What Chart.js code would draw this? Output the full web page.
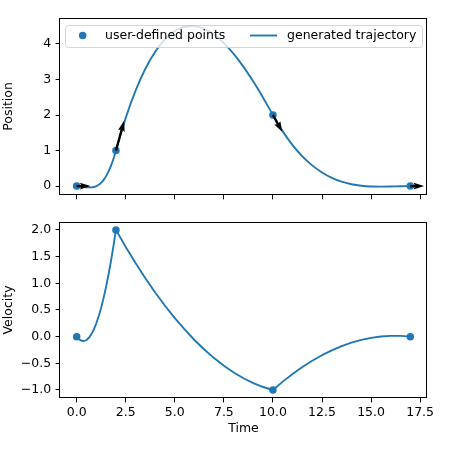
<!DOCTYPE html>
<html><head><meta charset="utf-8">
<script src="https://cdn.jsdelivr.net/npm/chart.js@4.4.0/dist/chart.umd.min.js"></script>
<style>
html,body{margin:0;padding:0;background:#fff;}
#wrap{position:relative;width:450px;height:450px;overflow:hidden;}
canvas{position:absolute;left:0;}
</style>
</head><body>
<div id="wrap">
<canvas id="topChart" width="450" height="210" style="top:0px"></canvas>
<canvas id="botChart" width="450" height="240" style="top:210px"></canvas>
</div>
<script>
// ---- data ----
const pointTimes = [0, 2, 10, 17];
const pointPositions = [0, 1, 2, 0];
const pointVelocities = [0, 2, -1, 0];

const trajTimes = [0,0.125,0.25,0.375,0.5,0.625,0.75,0.875,1,1.125,1.25,1.375,1.5,1.625,1.75,1.875,2,
  2.5,3,3.5,4,4.5,5,5.5,6,6.5,7,7.5,8,8.5,9,9.5,10,
  10.5,11,11.5,12,12.5,13,13.5,14,14.5,15,15.5,16,16.5,17];
const trajPositions = [0,-0.003,-0.012,-0.022,-0.031,-0.037,-0.035,-0.024,0,0.040,0.098,0.177,0.281,0.413,0.574,0.769,1,
  1.919,2.684,3.301,3.781,4.132,4.363,4.483,4.5,4.423,4.262,4.024,3.719,3.355,2.941,2.487,2,
  1.540,1.155,0.838,0.583,0.384,0.233,0.125,0.053,0.009,-0.012,-0.016,-0.012,-0.004,0];
const trajVelocities = [0,-0.051,-0.078,-0.082,-0.063,-0.020,0.047,0.137,0.25,0.387,0.547,0.731,0.938,1.168,1.422,1.699,2,
  1.681,1.379,1.095,0.828,0.579,0.348,0.134,-0.063,-0.241,-0.402,-0.546,-0.672,-0.780,-0.871,-0.944,-1,
  -0.843,-0.700,-0.569,-0.452,-0.348,-0.257,-0.179,-0.114,-0.062,-0.023,0.002,0.015,0.014,0];

const timeTicks = [0,2.5,5,7.5,10,12.5,15,17.5];
const timeTickLabels = ['0.0','2.5','5.0','7.5','10.0','12.5','15.0','17.5'];
const positionTicks = [0,1,2,3,4];
const positionTickLabels = ['0','1','2','3','4'];
const velocityTicks = [-1,-0.5,0,0.5,1,1.5,2];
const velocityTickLabels = ['\u22121.0','\u22120.5','0.0','0.5','1.0','1.5','2.0'];
const legendLabels = ['user-defined points','generated trajectory'];
const axisTitles = {x:'Time', pos:'Position', vel:'Velocity'};

// ---- styles ----
const BLUE = '#1f77b4';
const FONT = {family:'DejaVu Sans', size:12.5};
const TICKLEN = 4.4;

function lookup(ticks, labels){ return (v)=>{ const i = ticks.findIndex(t=>Math.abs(t-v)<1e-9); return i>=0?labels[i]:''; }; }
function gridOpts(){ return {display:true, drawOnChartArea:false, drawTicks:true, tickLength:TICKLEN, color:'#000', lineWidth:1}; }

const framePlugin = {
  id:'frameAndExtras',
  afterDraw(chart){
    const ctx = chart.ctx, ca = chart.chartArea;
    const xs = chart.scales.x, ys = chart.scales.y;
    if (chart.canvas.id === 'topChart') {
      // velocity arrows (quiver-like)
      ctx.save();
      ctx.beginPath(); ctx.rect(ca.left, ca.top, ca.right-ca.left, ca.bottom-ca.top); ctx.clip();
      const unit = 13.8, w = 2.3, hl = 4.6*w, hal = 4.1*w, hw = 3*w;
      for (let i=0;i<pointTimes.length;i++){
        const x0 = xs.getPixelForValue(pointTimes[i]);
        const y0 = ys.getPixelForValue(pointPositions[i]);
        const dxp = xs.getPixelForValue(pointTimes[i]+1) - x0;
        const dyp = ys.getPixelForValue(pointPositions[i]+pointVelocities[i]) - y0;
        const n = Math.hypot(dxp,dyp);
        const ux = dxp/n, uy = dyp/n;
        const len = unit*Math.hypot(1, pointVelocities[i]);
        const px = -uy, py = ux;
        const pts = [[0,-w/2],[len-hal,-w/2],[len-hl,-hw/2],[len,0],[len-hl,hw/2],[len-hal,w/2],[0,w/2]];
        ctx.beginPath();
        pts.forEach((p,k)=>{
          const X = x0 + ux*p[0] + px*p[1];
          const Y = y0 + uy*p[0] + py*p[1];
          if(k===0) ctx.moveTo(X,Y); else ctx.lineTo(X,Y);
        });
        ctx.closePath();
        ctx.fillStyle = '#000';
        ctx.fill();
      }
      ctx.restore();
    }
    // frame (all four spines)
    ctx.save();
    ctx.strokeStyle = '#000'; ctx.lineWidth = 1;
    const L = Math.round(ca.left)-0.5, T = Math.round(ca.top)+0.5;
    const R = Math.round(ca.right)-0.5, B = Math.round(ca.bottom)-0.5;
    ctx.strokeRect(L, T, R-L, B-T);
    ctx.restore();
    if (chart.canvas.id === 'topChart') {
      // legend inside the axes
      ctx.save();
      const lx = ca.left+5, ly = ca.top+7, lw = ca.right-ca.left-10, lh = 22;
      ctx.beginPath();
      ctx.roundRect(lx+0.5, ly+0.5, lw, lh, 3);
      ctx.fillStyle = 'rgba(255,255,255,0.8)';
      ctx.fill();
      ctx.strokeStyle = 'rgba(204,204,204,0.8)';
      ctx.lineWidth = 1;
      ctx.stroke();
      const cy = ly + 10.5;
      ctx.fillStyle = BLUE;
      ctx.beginPath(); ctx.arc(lx+17.7, cy, 3.75, 0, Math.PI*2); ctx.fill();
      ctx.strokeStyle = BLUE; ctx.lineWidth = 1.875;
      ctx.beginPath(); ctx.moveTo(lx+185, cy); ctx.lineTo(lx+212, cy); ctx.stroke();
      ctx.fillStyle = '#000';
      ctx.font = FONT.size + 'px "DejaVu Sans"';
      ctx.textBaseline = 'middle'; ctx.textAlign = 'left';
      ctx.fillText(legendLabels[0], lx+40, cy);
      ctx.fillText(legendLabels[1], lx+222, cy);
      ctx.restore();
    }
  }
};

function makeChart(id, yVals, pts, yMin, yMax, yTicks, yLabels, yTitle, isBottom){
  const lineDs = {label:legendLabels[1], data: trajTimes.map((t,i)=>({x:t,y:yVals[i]})),
         showLine:true, borderColor:BLUE, borderWidth:1.875, pointRadius:0, pointHoverRadius:0, tension:0, fill:false,
         borderJoinStyle:'round', borderCapStyle:'round'};
  if (!isBottom) { lineDs.cubicInterpolationMode = 'monotone'; }
  return new Chart(document.getElementById(id), {
    type:'scatter',
    data:{
      datasets:[
        {label:legendLabels[0], data: pointTimes.map((t,i)=>({x:t,y:pts[i]})),
         pointRadius:3.75, pointHoverRadius:3.75, pointBackgroundColor:BLUE, pointBorderWidth:0, showLine:false},
        lineDs
      ]
    },
    options:{
      responsive:false, animation:false, events:[],
      layout:{padding: isBottom ? {top:11,right:23,left:0,bottom:0} : {top:18,right:23,left:0,bottom:0}},
      plugins:{legend:{display:false}, tooltip:{enabled:false}},
      scales:{
        x:{type:'linear', min:-0.85, max:17.85,
           afterBuildTicks: s=>{ s.ticks = timeTicks.map(v=>({value:v})); },
           ticks:{display:isBottom, autoSkip:false, maxRotation:0, font:FONT, color:'#000', padding:3, callback: lookup(timeTicks,timeTickLabels)},
           grid:gridOpts(), border:{display:false},
           title:{display:isBottom, text:axisTitles.x, font:FONT, color:'#000', padding:{top:0,bottom:14}},
           afterFit: s=>{ s.height = isBottom ? 52 : 15; }},
        y:{type:'linear', min:yMin, max:yMax,
           afterBuildTicks: s=>{ s.ticks = yTicks.map(v=>({value:v})); },
           ticks:{autoSkip:false, font:FONT, color:'#000', padding:4.4, callback: lookup(yTicks,yLabels)},
           grid:gridOpts(), border:{display:false},
           title:{display:true, text:yTitle, font:FONT, color:'#000', padding:{top:1.5,bottom:0}},
           afterFit: s=>{ s.width = 60; }}
      }
    },
    plugins:[framePlugin]
  });
}

makeChart('topChart', trajPositions, pointPositions, -0.25, 4.73, positionTicks, positionTickLabels, axisTitles.pos, false);
makeChart('botChart', trajVelocities, pointVelocities, -1.15, 2.15, velocityTicks, velocityTickLabels, axisTitles.vel, true);
</script>
</body></html>
